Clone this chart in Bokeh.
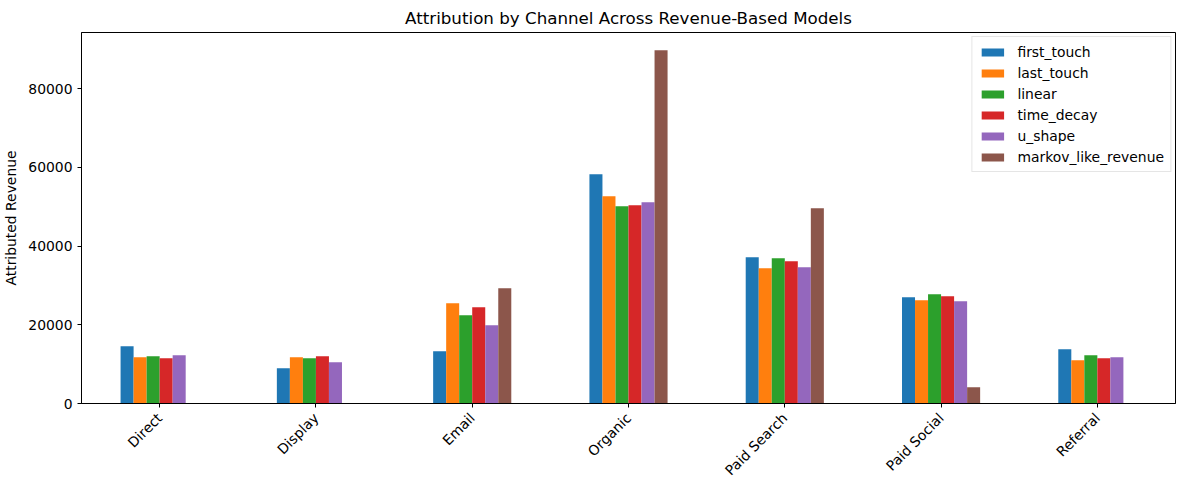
import math
from bokeh.plotting import figure
from bokeh.models import ColumnDataSource, FactorRange, Range1d, FixedTicker, BasicTickFormatter, Legend, LegendItem
from bokeh.transform import dodge
from bokeh.embed import file_html
from bokeh.resources import INLINE

channels = ["Direct", "Display", "Email", "Organic", "Paid Search", "Paid Social", "Referral"]
first_touch = [14570, 8980, 13290, 58250, 37160, 27010, 13800]
last_touch = [11770, 11770, 25490, 52660, 34370, 26250, 11010]
linear = [12020, 11510, 22440, 50120, 36910, 27770, 12280]
time_decay = [11510, 12020, 24470, 50370, 36150, 27260, 11510]
u_shape = [12280, 10500, 19900, 51130, 34620, 25990, 11770]
markov_like_revenue = [0, 0, 29300, 89740, 49610, 4150, 0]

series_names = ["first_touch", "last_touch", "linear", "time_decay", "u_shape", "markov_like_revenue"]
series_values = [first_touch, last_touch, linear, time_decay, u_shape, markov_like_revenue]
colors = ["#1f77b4", "#ff7f0e", "#2ca02c", "#d62728", "#9467bd", "#8c564b"]
y_ticks = [0, 20000, 40000, 60000, 80000]

FONT = "DejaVu Sans"
FS = "13.9px"

data = {"channel": channels}
for n, v in zip(series_names, series_values):
    data[n] = v
source = ColumnDataSource(data)

ymax = max(max(v) for v in series_values) * 1.05

p = figure(
    x_range=FactorRange(*channels, range_padding=0),
    y_range=Range1d(0, ymax),
    frame_width=1094, frame_height=371,
    min_border_left=75, min_border_right=4, min_border_top=24, min_border_bottom=70,
    output_backend="svg", toolbar_location=None,
    title="Attribution by Channel Across Revenue-Based Models",
)

bw = 0.5 / len(series_names)
items = []
for j, (n, c) in enumerate(zip(series_names, colors)):
    off = (j - (len(series_names) - 1) / 2) * bw
    r = p.vbar(x=dodge("channel", off, range=p.x_range), top=n, width=bw, source=source,
               fill_color=c, line_color=None)
    items.append(LegendItem(label=n, renderers=[r]))

legend = Legend(items=items, location="top_right")
legend.label_text_font = FONT
legend.label_text_font_size = FS
legend.label_text_color = "#000000"
legend.glyph_width = 28
legend.glyph_height = 10
legend.label_height = 17
legend.spacing = 4
legend.label_standoff = 11
legend.padding = 6
legend.margin = 4
legend.border_line_color = "#cccccc"
legend.border_line_width = 1
legend.background_fill_alpha = 0.8
p.add_layout(legend, "center")

p.title.text_font = FONT
p.title.text_font_size = "16.7px"
p.title.text_font_style = "normal"
p.title.align = "center"
p.title.text_color = "#000000"

p.xgrid.grid_line_color = None
p.ygrid.grid_line_color = None
p.outline_line_color = "black"
p.outline_line_width = 1
p.outline_line_alpha = 1

p.yaxis.ticker = FixedTicker(ticks=y_ticks)
p.yaxis.formatter = BasicTickFormatter(use_scientific=False)
p.yaxis.axis_label = "Attributed Revenue"
p.yaxis.axis_label_text_font = FONT
p.yaxis.axis_label_text_font_size = FS
p.yaxis.axis_label_text_font_style = "normal"
p.yaxis.axis_label_text_color = "#000000"
p.yaxis.axis_label_standoff = 6

for ax in (p.xaxis, p.yaxis):
    ax.major_label_text_font = FONT
    ax.major_label_text_font_size = FS
    ax.major_label_text_color = "#000000"
    ax.axis_line_color = "black"
    ax.major_tick_line_color = "black"
    ax.major_tick_out = 4
    ax.major_tick_in = 0
    ax.minor_tick_line_color = None

p.yaxis.major_label_standoff = 5
p.xaxis.major_label_orientation = math.pi / 4
p.xaxis.major_label_standoff = 8

open("out.html", "w").write(file_html(p, INLINE))
